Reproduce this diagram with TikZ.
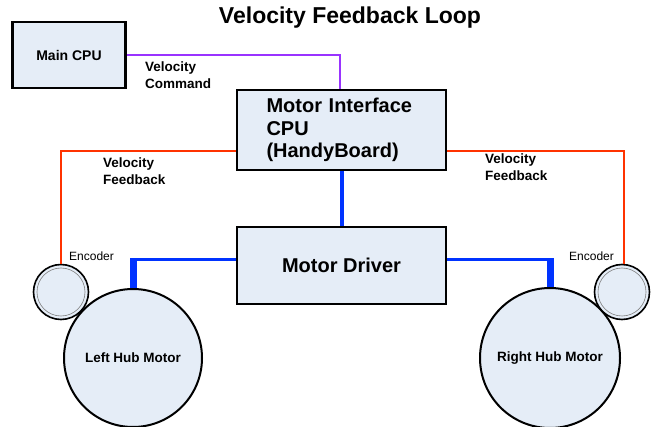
\documentclass[tikz,border=0pt]{standalone}
\usepackage{fontspec}
\setmainfont{Liberation Sans}
\usepackage{xcolor}
\usepackage{tikz}
\usetikzlibrary{calc}
\definecolor{boxfill}{HTML}{E5EDF7}
\definecolor{cmdline}{HTML}{9933FF}
\definecolor{fbline}{HTML}{FF3300}
\definecolor{pwrline}{HTML}{0033FF}

\begin{document}
\begin{tikzpicture}[x=1pt, y=-1pt,
    block/.style={draw=black, line width=2.6pt, fill=boxfill, inner sep=0pt},
    wheel/.style={circle, draw=black, line width=2pt, fill=boxfill, inner sep=0pt},
    enc/.style={circle, draw=black, line width=1.6pt, fill=boxfill, inner sep=0pt,
                minimum size=55pt},
    lbl/.style={font=\fontsize{13.5}{16.5}\selectfont\bfseries, align=left, inner sep=0pt},
    cmd/.style={draw=cmdline, line width=1.2pt},
    fb/.style={draw=fbline, line width=1.3pt},
    bus/.style={draw=pwrline, line width=3pt}]
  \useasboundingbox (0,0) rectangle (653,427);

  \node[font=\fontsize{23}{26}\selectfont\bfseries] (title) at (350,18) {Velocity Feedback Loop};

  % boxes
  \node[block, minimum width=113pt, minimum height=66pt,
        font=\fontsize{14}{16}\selectfont\bfseries] (maincpu) at (69,55) {Main CPU};
  \node[block, minimum width=209pt, minimum height=80pt, text width=150pt, align=left,
        font=\fontsize{20}{22.5}\selectfont\bfseries] (mif) at (341.5,130)
        {Motor Interface\\CPU\\(HandyBoard)};
  \node[block, minimum width=209pt, minimum height=77pt,
        font=\fontsize{20}{22}\selectfont\bfseries] (driver) at (341.5,265.5) {Motor Driver};

  % motors and encoders
  \node[wheel, minimum size=138pt, font=\fontsize{13.5}{16}\selectfont\bfseries]
        (lmotor) at (133,358) {Left Hub Motor};
  \node[wheel, minimum size=140pt, font=\fontsize{13.5}{16}\selectfont\bfseries]
        (rmotor) at (550,358) {Right Hub Motor};
  \node[enc] (lenc) at (61,292) {};
  \node[enc] (renc) at (622,292) {};
  \draw[gray, line width=0.6pt] (lenc.center) circle (24pt);
  \draw[gray, line width=0.6pt] (renc.center) circle (24pt);

  \node[font=\fontsize{12}{14}\selectfont, anchor=west, inner sep=0pt] (lenclbl) at (69,256) {Encoder};
  \node[font=\fontsize{12}{14}\selectfont, anchor=west, inner sep=0pt] (renclbl) at (569,256) {Encoder};

  % command and feedback lines
  \draw[cmd] (maincpu.east) -| ([xshift=-1.5pt]mif.north);
  \draw[fb] ([yshift=-21pt]mif.west) -| (lenc.north);
  \draw[fb] ([yshift=-21pt]mif.east) -| ([xshift=2pt]renc.north);
  \node[lbl, anchor=north west] (cmdlbl) at (145,62) {Velocity\\Command};
  \node[lbl, anchor=north west] (lfblbl) at (103,158) {Velocity\\Feedback};
  \node[lbl, anchor=north west] (rfblbl) at (485,154) {Velocity\\Feedback};

  % power to the motors
  \draw[bus, line width=4pt] (mif.south) -- (driver.north);
  \coordinate (dl) at ($(driver.west)+(0,-5.5)$);
  \coordinate (dr) at ($(driver.east)+(0,-5.5)$);
  \coordinate (lturn) at (dl -| lmotor.north);
  \coordinate (rturn) at (dr -| rmotor.north);
  \draw[bus] (dl) -- (lturn);
  \draw[bus, line width=7pt] ($(lturn)+(0,-1.5)$) -- (lmotor.north);
  \draw[bus] (dr) -- (rturn);
  \draw[bus, line width=7pt] ($(rturn)+(0,-1.5)$) -- (rmotor.north);
\end{tikzpicture}
\end{document}
